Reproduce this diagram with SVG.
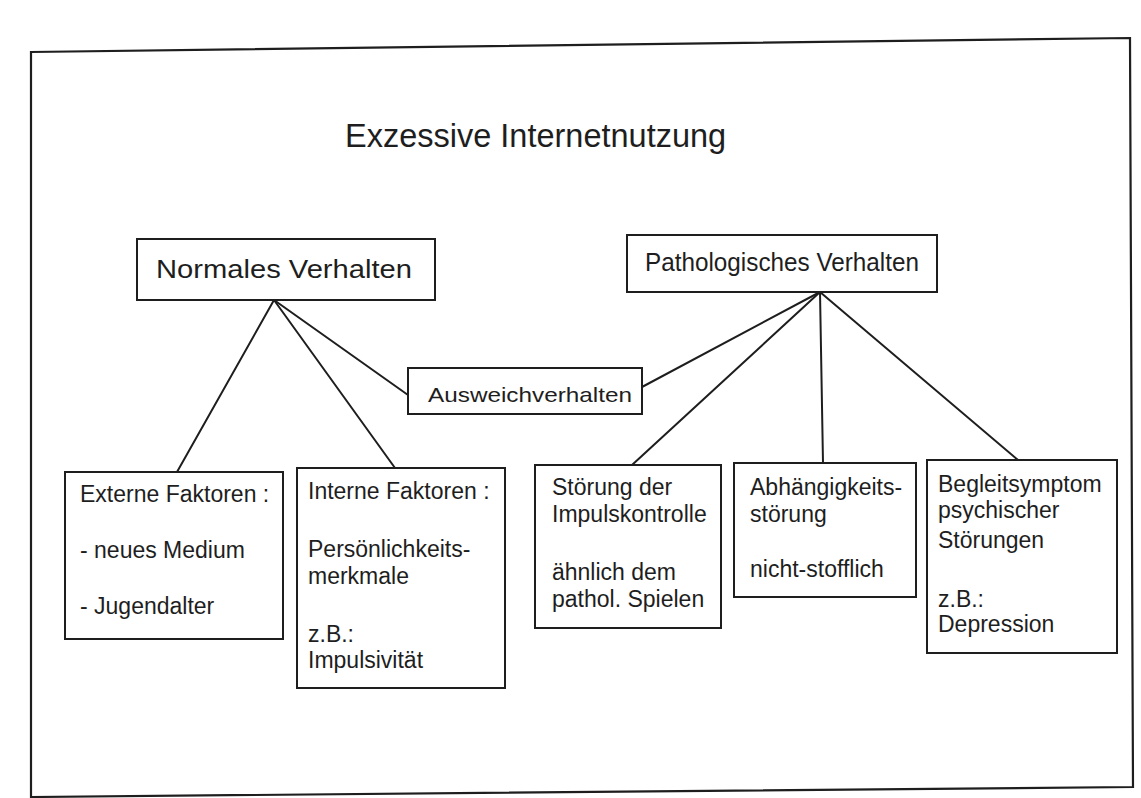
<svg xmlns="http://www.w3.org/2000/svg" width="1141" height="798" viewBox="0 0 1141 798">
<style>
.box{fill:#fff;stroke:#1e1e1e;stroke-width:2}
.ln{stroke:#1e1e1e;stroke-width:2;fill:none;stroke-linecap:round}
text{font-family:"Liberation Sans",Arial,sans-serif;fill:#1e1e1e}
.t{font-size:23px}
.h{font-size:26.5px}
</style>
<rect x="0" y="0" width="1141" height="798" fill="#fff"/>
<path d="M31,52 L1130,38 L1133,787 L31,797 Z" fill="none" stroke="#1e1e1e" stroke-width="2.2"/>
<text x="345" y="147" style="font-size:32.5px">Exzessive Internetnutzung</text>
<g id="connectors">
<line class="ln" x1="274" y1="300" x2="177" y2="472"/>
<line class="ln" x1="274" y1="300" x2="395" y2="468"/>
<line class="ln" x1="274" y1="300" x2="408" y2="395"/>
<line class="ln" x1="820" y1="292" x2="642" y2="387"/>
<line class="ln" x1="820" y1="292" x2="632" y2="465"/>
<line class="ln" x1="820" y1="292" x2="823" y2="463"/>
<line class="ln" x1="820" y1="292" x2="1018" y2="460"/>
</g>
<g id="normal">
<rect class="box" x="137" y="239" width="298" height="61"/>
<text class="h" x="156" y="278" textLength="256" lengthAdjust="spacingAndGlyphs">Normales Verhalten</text>
</g>
<g id="patho">
<rect class="box" x="627" y="235" width="310" height="57"/>
<text class="h" x="645" y="271" textLength="274" lengthAdjust="spacingAndGlyphs">Pathologisches Verhalten</text>
</g>
<g id="ausweich">
<rect class="box" x="408" y="368" width="234" height="46"/>
<text x="428" y="402" style="font-size:21px" textLength="204" lengthAdjust="spacingAndGlyphs">Ausweichverhalten</text>
</g>
<g id="extern">
<rect class="box" x="65" y="472" width="218" height="167"/>
<text class="t" x="80" y="502">Externe Faktoren :</text>
<text class="t" x="80" y="558">- neues Medium</text>
<text class="t" x="80" y="614">- Jugendalter</text>
</g>
<g id="intern">
<rect class="box" x="297" y="468" width="208" height="220"/>
<text class="t" x="308" y="499">Interne Faktoren :</text>
<text class="t" x="308" y="557">Persönlichkeits-</text>
<text class="t" x="308" y="584">merkmale</text>
<text class="t" x="308" y="642">z.B.:</text>
<text class="t" x="308" y="668">Impulsivität</text>
</g>
<g id="impuls">
<rect class="box" x="535" y="465" width="186" height="163"/>
<text class="t" x="552" y="495">Störung der</text>
<text class="t" x="552" y="522">Impulskontrolle</text>
<text class="t" x="552" y="580">ähnlich dem</text>
<text class="t" x="552" y="607">pathol. Spielen</text>
</g>
<g id="abhaengig">
<rect class="box" x="734" y="463" width="182" height="134"/>
<text class="t" x="750" y="495">Abhängigkeits-</text>
<text class="t" x="750" y="522">störung</text>
<text class="t" x="750" y="577">nicht-stofflich</text>
</g>
<g id="begleit">
<rect class="box" x="927" y="460" width="190" height="193"/>
<text class="t" x="938" y="492">Begleitsymptom</text>
<text class="t" x="938" y="518">psychischer</text>
<text class="t" x="938" y="548">Störungen</text>
<text class="t" x="938" y="607">z.B.:</text>
<text class="t" x="938" y="632">Depression</text>
</g>
</svg>
